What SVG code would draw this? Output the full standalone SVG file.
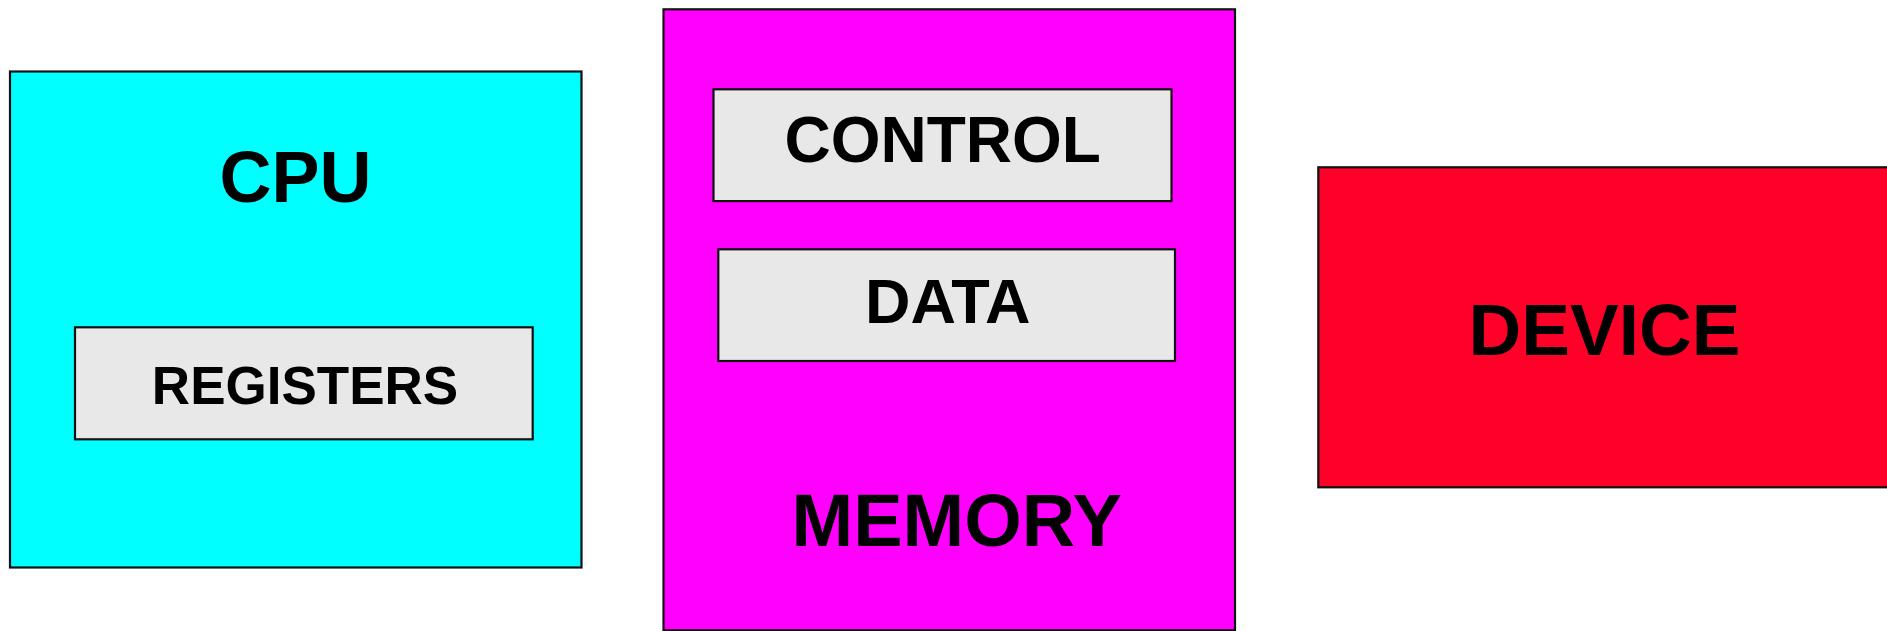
<svg xmlns="http://www.w3.org/2000/svg" width="1887" height="631" viewBox="0 0 1887 631">
  <style>
    .box { stroke: #111111; stroke-width: 2.2; }
    .inner { fill: #e8e8e8; stroke: #111111; stroke-width: 2.2; }
    .lbl { font-family: "Liberation Sans", Arial, sans-serif; font-weight: bold; fill: #000000; text-anchor: middle; }
  </style>
  <rect width="1887" height="631" fill="#ffffff"/>

  <g id="cpu">
    <rect class="box" x="10" y="71.5" width="571.5" height="496" fill="#00ffff"/>
    <text class="lbl" x="295.5" y="201.5" font-size="72">CPU</text>
  </g>

  <g id="registers">
    <rect class="inner" x="75" y="327.3" width="457.7" height="112"/>
    <text class="lbl" x="305" y="404" font-size="53">REGISTERS</text>
  </g>

  <g id="memory">
    <rect class="box" x="663.5" y="9.3" width="571.5" height="621" fill="#ff00ff"/>
    <text class="lbl" x="956.7" y="546" font-size="74">MEMORY</text>
  </g>

  <g id="control">
    <rect class="inner" x="713.5" y="89.3" width="458" height="111.8"/>
    <text class="lbl" x="942.7" y="162.3" font-size="64">CONTROL</text>
  </g>

  <g id="data">
    <rect class="inner" x="718.3" y="249.3" width="456.7" height="111.7"/>
    <text class="lbl" x="947.8" y="322.7" font-size="63">DATA</text>
  </g>

  <g id="device">
    <rect class="box" x="1318.3" y="167.3" width="580" height="320" fill="#ff0029"/>
    <text class="lbl" x="1604.5" y="355" font-size="73">DEVICE</text>
  </g>

  <g id="connectors"></g>
</svg>
